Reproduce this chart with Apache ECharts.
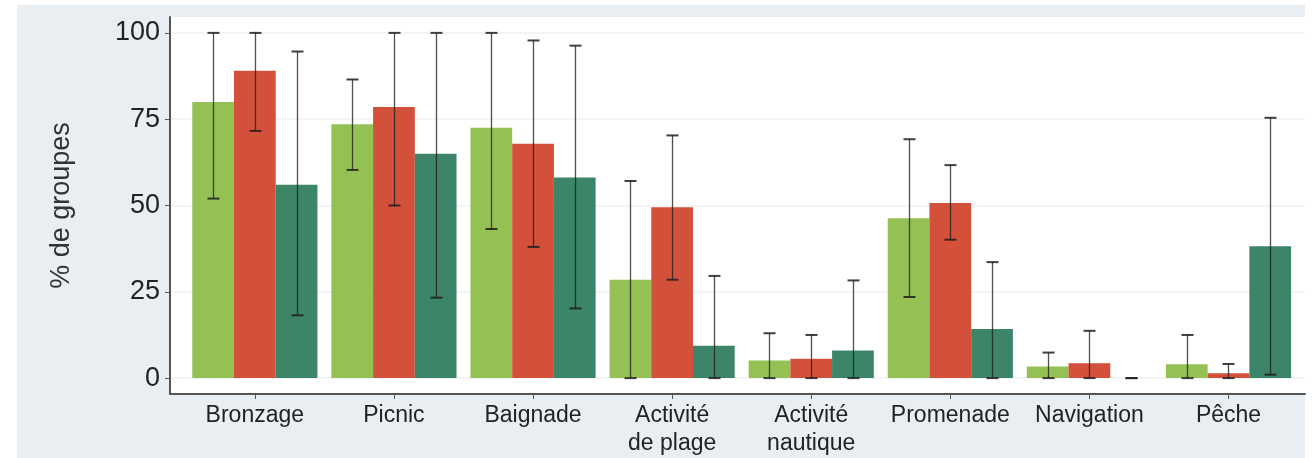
<!DOCTYPE html>
<html>
<head>
<meta charset="utf-8">
<script src="https://cdn.jsdelivr.net/npm/echarts@6/dist/echarts.min.js"></script>
<style>
  html, body { margin: 0; padding: 0; background: #ffffff; }
  #frame { position: absolute; left: 17px; top: 5px; width: 1288px; height: 453px; background: #e9eef2; }
  #chart { position: absolute; left: 0; top: 0; width: 1314px; height: 458px; }
</style>
</head>
<body>
<div id="frame"></div>
<div id="chart"></div>
<script>
// ---- data ----
const categories = ['Bronzage', 'Picnic', 'Baignade', 'Activité\nde plage', 'Activité\nnautique', 'Promenade', 'Navigation', 'Pêche'];
const yTicks = [0, 25, 50, 75, 100];

const greenValues = [80, 73.5, 72.5, 28.5, 5.1, 46.3, 3.4, 4.0];
const greenLow    = [52, 60.3, 43.2, 0, 0, 23.5, 0, 0];
const greenHigh   = [100, 86.5, 100, 57.1, 13, 69.2, 7.4, 12.5];

const redValues = [89, 78.5, 67.9, 49.5, 5.6, 50.7, 4.3, 1.4];
const redLow    = [71.6, 50, 38, 28.5, 0, 40.1, 0, 0];
const redHigh   = [100, 100, 97.8, 70.3, 12.5, 61.7, 13.7, 4.1];

const tealValues = [56, 65, 58.1, 9.4, 8, 14.2, 0, 38.2];
const tealLow    = [18.2, 23.3, 20.2, 0, 0, 0, 0, 1];
const tealHigh   = [94.6, 100, 96.3, 29.6, 28.3, 33.6, 0, 75.4];

const colors = ['#95c154', '#d3513b', '#3d8568'];
const groups = [
  { values: greenValues, low: greenLow, high: greenHigh },
  { values: redValues, low: redLow, high: redHigh },
  { values: tealValues, low: tealLow, high: tealHigh }
];
const catIdx = categories.map((_, i) => i);
const BAR_FRAC = 0.3;
const FONT = 'Liberation Sans, Arial, sans-serif';

const chart = echarts.init(document.getElementById('chart'), null, { renderer: 'canvas' });

const series = [];
groups.forEach((g, s) => {
  series.push({
    type: 'bar',
    name: 'g' + s,
    data: g.values.map((v, i) => [i, v]),
    barWidth: (BAR_FRAC * 100) + '%',
    barGap: '0%',
    itemStyle: { color: colors[s] },
    silent: true
  });
});
groups.forEach((g, s) => {
  series.push({
    type: 'custom',
    data: g.values.map((v, i) => [i, g.low[i], g.high[i]]),
    z: 10,
    silent: true,
    renderItem: function (params, api) {
      const i = api.value(0);
      const off = (s - 1) * api.size([BAR_FRAC, 0])[0];
      const lo = api.coord([i, api.value(1)]);
      const hi = api.coord([i, api.value(2)]);
      const x = Math.round(lo[0] + off) + 0.5;
      const cap = 6;
      const st = { stroke: 'rgba(30,30,30,0.78)', lineWidth: 1.3 };
      const capSt = { stroke: 'rgba(30,30,30,0.85)', lineWidth: 2 };
      return {
        type: 'group',
        children: [
          { type: 'line', shape: { x1: x, y1: lo[1], x2: x, y2: hi[1] }, style: st },
          { type: 'line', shape: { x1: x - cap, y1: hi[1], x2: x + cap, y2: hi[1] }, style: capSt },
          { type: 'line', shape: { x1: x - cap, y1: lo[1], x2: x + cap, y2: lo[1] }, style: capSt }
        ]
      };
    }
  });
});

chart.setOption({
  animation: false,
  backgroundColor: 'transparent',
  grid: { left: 170, right: 9, top: 17, bottom: 61, show: true, backgroundColor: '#ffffff', borderWidth: 0 },
  xAxis: {
    type: 'value',
    min: -0.61,
    max: 7.55,
    splitLine: { show: false },
    axisLine: { show: true, onZero: false, lineStyle: { color: '#555', width: 2 } },
    axisTick: { show: true, customValues: catIdx, length: 5, lineStyle: { color: '#555' } },
    axisLabel: {
      customValues: catIdx,
      formatter: v => categories[Math.round(v)],
      fontFamily: FONT,
      fontSize: 23,
      lineHeight: 28,
      color: '#222',
      margin: 8
    }
  },
  yAxis: {
    type: 'value',
    min: -4.6,
    max: 104.6,
    name: '% de groupes',
    nameLocation: 'middle',
    nameRotate: 90,
    nameGap: 95,
    nameTextStyle: { fontFamily: FONT, fontSize: 27, color: '#333' },
    axisLine: { show: true, onZero: false, lineStyle: { color: '#555', width: 2 } },
    axisTick: { show: true, customValues: yTicks, length: 5, lineStyle: { color: '#555' } },
    axisLabel: {
      customValues: yTicks,
      fontFamily: FONT,
      fontSize: 27,
      color: '#222',
      margin: 10
    },
    splitLine: { show: true, lineStyle: { color: '#eef0f2', width: 1.5 } }
  },
  series: series
});
</script>
</body>
</html>
